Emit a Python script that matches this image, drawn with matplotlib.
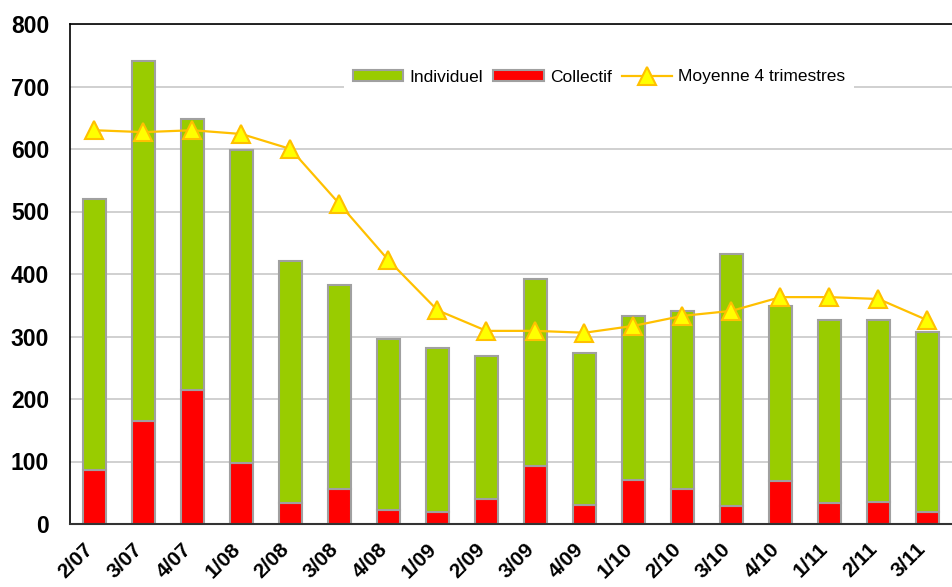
import numpy as np
import matplotlib
matplotlib.use("Agg")
import matplotlib.pyplot as plt
from matplotlib.transforms import ScaledTranslation

plt.rcParams["font.family"] = ["Liberation Sans", "DejaVu Sans"]

# trimestres
quarters = ["2/07", "3/07", "4/07", "1/08", "2/08", "3/08", "4/08", "1/09", "2/09",
            "3/09", "4/09", "1/10", "2/10", "3/10", "4/10", "1/11", "2/11", "3/11"]
# total (individuel + collectif) and collectif part
total = [520, 741, 648, 598, 421, 382, 296, 282, 269,
         392, 274, 333, 341, 432, 349, 326, 326, 307]
collectif = [86, 165, 214, 98, 34, 56, 22, 19, 40,
             93, 30, 70, 56, 29, 69, 34, 35, 19]
moyenne = [630, 627, 630, 624, 600, 512, 422, 342, 309,
           309, 306, 317, 333, 341, 363, 363, 360, 326]

individuel = np.array(total) - np.array(collectif)
x = np.arange(len(quarters))

fig = plt.figure(figsize=(9.53, 5.87), dpi=100)
ax = fig.add_axes([70 / 953, 1 - 524 / 587, 882 / 953, 500 / 587])

edge = "#a0a0a0"
b_col = ax.bar(x, collectif, width=0.45, color="#ff0000", edgecolor=edge,
               linewidth=1.5, zorder=2)
b_ind = ax.bar(x, individuel, bottom=collectif, width=0.45, color="#99cc00",
               edgecolor=edge, linewidth=1.5, zorder=2)
ln, = ax.plot(x, moyenne, color="#ffc000", lw=1.6, marker="^", ms=13,
              mfc="#ffff00", mec="#ffc000", mew=1.5, zorder=3)

ax.set_xlim(-0.5, len(quarters) - 0.5)
ax.set_ylim(0, 800)
ax.set_yticks(range(0, 801, 100))
ax.yaxis.grid(True, color="#c8c8c8", lw=1.2, zorder=0)
ax.set_axisbelow(True)
ax.tick_params(axis="both", length=0)
ax.tick_params(axis="y", pad=15, labelsize=16.5)
ax.tick_params(axis="x", pad=11, labelsize=15)
ax.set_xticks(x)
ax.set_xticklabels(quarters, rotation=45, ha="right", rotation_mode="anchor",
                   fontweight="bold")
shift = ScaledTranslation(-11 / 100, 0, fig.dpi_scale_trans)
for lbl in ax.get_xticklabels():
    lbl.set_transform(lbl.get_transform() + shift)
for lbl in ax.get_yticklabels():
    lbl.set_fontweight("bold")

for side in ("left", "top"):
    ax.spines[side].set_color("black")
    ax.spines[side].set_linewidth(1.2)
ax.spines["bottom"].set_color("#333333")
ax.spines["bottom"].set_linewidth(1.5)
ax.spines["right"].set_visible(False)

ax.legend([b_ind, b_col, ln], ["Individuel", "Collectif", "Moyenne 4 trimestres"],
          loc="center", bbox_to_anchor=(0.6, 0.894), ncol=3, fontsize=12.5,
          frameon=True, facecolor="white", edgecolor="none", framealpha=1,
          fancybox=False, handlelength=2.9, handleheight=0.6,
          columnspacing=0.6, handletextpad=0.35, borderpad=0.5)

fig.savefig("out.png", dpi=100)
